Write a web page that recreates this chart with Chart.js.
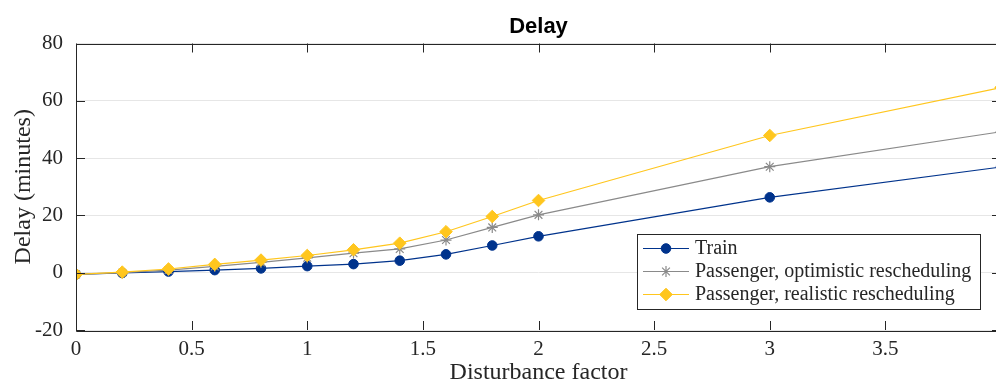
<!DOCTYPE html>
<html>
<head>
<meta charset="utf-8">
<script src="https://cdn.jsdelivr.net/npm/chart.js@4.4.1/dist/chart.umd.min.js"></script>
<style>
  html, body { margin: 0; padding: 0; background: #fff; overflow: hidden; }
  #wrap { width: 1010px; height: 387px; }
</style>
</head>
<body>
<div id="wrap"><canvas id="delayChart" width="1010" height="387"></canvas></div>
<script>
// data
const factors = [0, 0.2, 0.4, 0.6, 0.8, 1, 1.2, 1.4, 1.6, 1.8, 2, 3, 4];
const trainDelay = [-0.6, -0.1, 0.4, 0.9, 1.5, 2.3, 3.0, 4.2, 6.4, 9.5, 12.7, 26.3, 36.9];
const optimisticDelay = [-0.6, 0.0, 0.9, 2.2, 3.6, 5.2, 6.8, 8.3, 11.4, 15.8, 20.2, 37.0, 49.2];
const realisticDelay = [-0.6, 0.2, 1.3, 2.9, 4.4, 6.0, 8.0, 10.3, 14.3, 19.6, 25.2, 47.9, 64.6];
const seriesNames = ['Train', 'Passenger, optimistic rescheduling', 'Passenger, realistic rescheduling'];
const xTicks = [0, 0.5, 1, 1.5, 2, 2.5, 3, 3.5];
const yTicks = [-20, 0, 20, 40, 60, 80];

const blue = '#00338c';
const grey = '#8a8a8a';
const gold = '#ffc61e';
const axisColor = '#262626';
const serif = "'Liberation Serif', 'Times New Roman', serif";

const toPoints = (ys) => factors.map((x, i) => ({ x: x, y: ys[i] }));

// box around the axes with inward ticks, matlab style
const boxPlugin = {
    id: 'box',
    afterDatasetsDraw(chart) {
        const { ctx, chartArea: a, scales } = chart;
        const len = 9;
        ctx.save();
        ctx.strokeStyle = axisColor;
        ctx.lineWidth = 1;
        ctx.beginPath();
        ctx.rect(Math.round(a.left) + 0.5, Math.round(a.top) + 0.5, Math.round(a.right - a.left), Math.round(a.bottom - a.top));
        xTicks.forEach(v => {
            const px = Math.round(scales.x.getPixelForValue(v)) + 0.5;
            ctx.moveTo(px, a.bottom); ctx.lineTo(px, a.bottom - len);
            ctx.moveTo(px, a.top); ctx.lineTo(px, a.top + len);
        });
        yTicks.forEach(v => {
            const py = Math.round(scales.y.getPixelForValue(v)) + 0.5;
            ctx.moveTo(a.left, py); ctx.lineTo(a.left + len, py);
            ctx.moveTo(a.right, py); ctx.lineTo(a.right - len, py);
        });
        ctx.stroke();
        ctx.restore();
    }
};

// legend box inside the axes, bottom right
const legendPlugin = {
    id: 'boxLegend',
    afterDraw(chart) {
        const { ctx } = chart;
        const left = 637, top = 234, w = 343, h = 75;
        ctx.save();
        ctx.fillStyle = '#fff';
        ctx.fillRect(left, top, w, h);
        ctx.strokeStyle = axisColor;
        ctx.lineWidth = 1;
        ctx.strokeRect(left + 0.5, top + 0.5, w, h);
        ctx.font = '20px ' + serif;
        ctx.textBaseline = 'middle';
        chart.data.datasets.forEach((ds, i) => {
            const y = top + 14 + i * 23;
            ctx.strokeStyle = ds.borderColor;
            ctx.lineWidth = 1;
            ctx.beginPath();
            ctx.moveTo(left + 6, y + 0.5);
            ctx.lineTo(left + 52, y + 0.5);
            ctx.stroke();
            ctx.fillStyle = ds.pointBackgroundColor;
            ctx.strokeStyle = ds.pointBorderColor;
            ctx.lineWidth = ds.pointBorderWidth;
            Chart.helpers.drawPoint(ctx, {
                pointStyle: ds.pointStyle,
                radius: ds.pointRadius,
                borderWidth: ds.pointBorderWidth
            }, left + 29, y + 0.5);
            ctx.fillStyle = axisColor;
            ctx.fillText(seriesNames[i], left + 58, y + 1);
        });
        ctx.restore();
    }
};

const ctx = document.getElementById('delayChart').getContext('2d');
new Chart(ctx, {
    type: 'line',
    data: {
        datasets: [
            {
                label: seriesNames[0],
                data: toPoints(trainDelay),
                borderColor: blue,
                backgroundColor: blue,
                pointBackgroundColor: blue,
                pointBorderColor: blue,
                pointStyle: 'circle',
                pointRadius: 4.8,
                pointBorderWidth: 1,
                borderWidth: 1.2,
                order: 2
            },
            {
                label: seriesNames[1],
                data: toPoints(optimisticDelay),
                borderColor: grey,
                backgroundColor: grey,
                pointBackgroundColor: grey,
                pointBorderColor: grey,
                pointStyle: 'star',
                pointRadius: 5.5,
                pointBorderWidth: 1.2,
                borderWidth: 1.2,
                order: 1
            },
            {
                label: seriesNames[2],
                data: toPoints(realisticDelay),
                borderColor: gold,
                backgroundColor: gold,
                pointBackgroundColor: gold,
                pointBorderColor: gold,
                pointStyle: 'rectRot',
                pointRadius: 6.3,
                pointBorderWidth: 1,
                borderWidth: 1.2,
                order: 0
            }
        ]
    },
    options: {
        responsive: false,
        animation: false,
        layout: { padding: { left: 0, right: 9, top: 0, bottom: 0 } },
        elements: { line: { tension: 0 } },
        datasets: { line: { clip: 0 } },
        plugins: {
            legend: { display: false },
            tooltip: { enabled: false },
            title: {
                display: true,
                fullSize: false,
                text: 'Delay',
                color: '#000',
                font: { family: "'Liberation Sans', Arial, sans-serif", size: 22, weight: 'bold' },
                padding: { top: 13.5, bottom: 3.6 }
            }
        },
        scales: {
            x: {
                type: 'linear',
                min: 0,
                max: 4,
                afterFit(scale) {
                    scale.height = 57;
                    scale.paddingLeft = 0;
                    scale.paddingRight = 0;
                },
                afterBuildTicks(scale) { scale.ticks = xTicks.map(v => ({ value: v })); },
                ticks: {
                    color: axisColor,
                    font: { family: serif, size: 21 },
                    padding: 7,
                    maxRotation: 0,
                    autoSkip: false,
                    callback: (v) => String(v)
                },
                grid: { display: false, drawTicks: false },
                border: { display: false },
                title: {
                    display: true,
                    text: 'Disturbance factor',
                    color: axisColor,
                    font: { family: serif, size: 24 },
                    padding: { top: 0, bottom: 0 }
                }
            },
            y: {
                min: -20,
                max: 80,
                afterFit(scale) {
                    scale.width = 76;
                    scale.paddingTop = 0;
                    scale.paddingBottom = 0;
                },
                afterBuildTicks(scale) { scale.ticks = yTicks.map(v => ({ value: v })); },
                ticks: {
                    color: axisColor,
                    font: { family: serif, size: 21 },
                    padding: 13,
                    callback: (v) => String(v)
                },
                grid: { color: '#e6e6e6', drawTicks: false },
                border: { display: false },
                title: {
                    display: true,
                    text: 'Delay (minutes)',
                    color: axisColor,
                    font: { family: serif, size: 24 },
                    padding: { top: 9, bottom: 0 }
                }
            }
        }
    },
    plugins: [boxPlugin, legendPlugin]
});
</script>
</body>
</html>
